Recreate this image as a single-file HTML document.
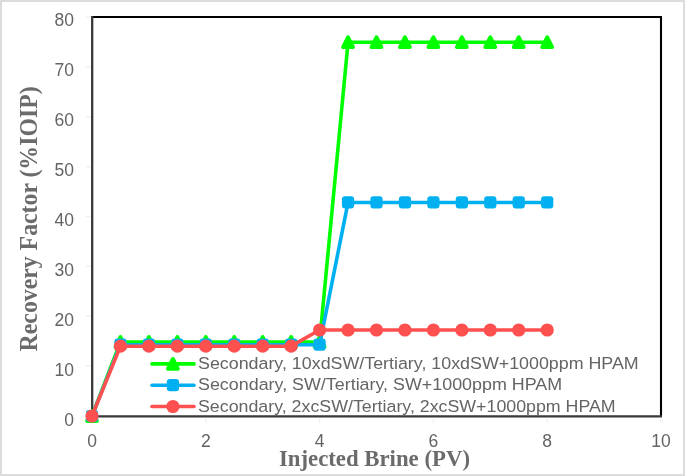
<!DOCTYPE html>
<html><head><meta charset="utf-8"><style>
html,body{margin:0;padding:0;background:#fff;}
body{width:685px;height:476px;overflow:hidden;position:relative;}
.frame{position:absolute;left:0;top:0;width:681px;height:472px;border:2px solid #dcdcdc;}
svg{position:absolute;left:0;top:0;will-change:transform;}
</style></head><body>
<div class="frame"></div>
<svg width="685" height="476" viewBox="0 0 685 476">
<path d="M92.2,17 H661 V416.4" fill="none" stroke="#000" stroke-width="2.1"/>
<path d="M92.2,16 V416.4 H662" fill="none" stroke="#393939" stroke-width="2.3"/>
<line x1="86" y1="416.00" x2="91" y2="416.00" stroke="#f0f0f0" stroke-width="1.5"/>
<line x1="86" y1="366.12" x2="91" y2="366.12" stroke="#f0f0f0" stroke-width="1.5"/>
<line x1="86" y1="316.25" x2="91" y2="316.25" stroke="#f0f0f0" stroke-width="1.5"/>
<line x1="86" y1="266.38" x2="91" y2="266.38" stroke="#f0f0f0" stroke-width="1.5"/>
<line x1="86" y1="216.50" x2="91" y2="216.50" stroke="#f0f0f0" stroke-width="1.5"/>
<line x1="86" y1="166.62" x2="91" y2="166.62" stroke="#f0f0f0" stroke-width="1.5"/>
<line x1="86" y1="116.75" x2="91" y2="116.75" stroke="#f0f0f0" stroke-width="1.5"/>
<line x1="86" y1="66.88" x2="91" y2="66.88" stroke="#f0f0f0" stroke-width="1.5"/>
<line x1="86" y1="17.00" x2="91" y2="17.00" stroke="#f0f0f0" stroke-width="1.5"/>
<line x1="92.00" y1="418.5" x2="92.00" y2="423" stroke="#f0f0f0" stroke-width="1.5"/>
<line x1="205.80" y1="418.5" x2="205.80" y2="423" stroke="#f0f0f0" stroke-width="1.5"/>
<line x1="319.60" y1="418.5" x2="319.60" y2="423" stroke="#f0f0f0" stroke-width="1.5"/>
<line x1="433.40" y1="418.5" x2="433.40" y2="423" stroke="#f0f0f0" stroke-width="1.5"/>
<line x1="547.20" y1="418.5" x2="547.20" y2="423" stroke="#f0f0f0" stroke-width="1.5"/>
<line x1="661.00" y1="418.5" x2="661.00" y2="423" stroke="#f0f0f0" stroke-width="1.5"/>
<polyline points="92.00,416.00 120.45,341.94 148.90,341.94 177.35,341.94 205.80,341.94 234.25,341.94 262.70,341.94 291.15,341.94 319.60,341.94 348.05,42.19 376.50,42.19 404.95,42.19 433.40,42.19 461.85,42.19 490.30,42.19 518.75,42.19 547.20,42.19" fill="none" stroke="#00FF00" stroke-width="3.6" stroke-linejoin="round" stroke-linecap="round"/>
<polygon points="92.00,411.10 87.10,420.90 96.90,420.90" fill="#00FF00" stroke="#00FF00" stroke-width="4.0" stroke-linejoin="round"/>
<polygon points="120.45,337.04 115.55,346.84 125.35,346.84" fill="#00FF00" stroke="#00FF00" stroke-width="4.0" stroke-linejoin="round"/>
<polygon points="148.90,337.04 144.00,346.84 153.80,346.84" fill="#00FF00" stroke="#00FF00" stroke-width="4.0" stroke-linejoin="round"/>
<polygon points="177.35,337.04 172.45,346.84 182.25,346.84" fill="#00FF00" stroke="#00FF00" stroke-width="4.0" stroke-linejoin="round"/>
<polygon points="205.80,337.04 200.90,346.84 210.70,346.84" fill="#00FF00" stroke="#00FF00" stroke-width="4.0" stroke-linejoin="round"/>
<polygon points="234.25,337.04 229.35,346.84 239.15,346.84" fill="#00FF00" stroke="#00FF00" stroke-width="4.0" stroke-linejoin="round"/>
<polygon points="262.70,337.04 257.80,346.84 267.60,346.84" fill="#00FF00" stroke="#00FF00" stroke-width="4.0" stroke-linejoin="round"/>
<polygon points="291.15,337.04 286.25,346.84 296.05,346.84" fill="#00FF00" stroke="#00FF00" stroke-width="4.0" stroke-linejoin="round"/>
<polygon points="319.60,337.04 314.70,346.84 324.50,346.84" fill="#00FF00" stroke="#00FF00" stroke-width="4.0" stroke-linejoin="round"/>
<polygon points="348.05,37.29 343.15,47.09 352.95,47.09" fill="#00FF00" stroke="#00FF00" stroke-width="4.0" stroke-linejoin="round"/>
<polygon points="376.50,37.29 371.60,47.09 381.40,47.09" fill="#00FF00" stroke="#00FF00" stroke-width="4.0" stroke-linejoin="round"/>
<polygon points="404.95,37.29 400.05,47.09 409.85,47.09" fill="#00FF00" stroke="#00FF00" stroke-width="4.0" stroke-linejoin="round"/>
<polygon points="433.40,37.29 428.50,47.09 438.30,47.09" fill="#00FF00" stroke="#00FF00" stroke-width="4.0" stroke-linejoin="round"/>
<polygon points="461.85,37.29 456.95,47.09 466.75,47.09" fill="#00FF00" stroke="#00FF00" stroke-width="4.0" stroke-linejoin="round"/>
<polygon points="490.30,37.29 485.40,47.09 495.20,47.09" fill="#00FF00" stroke="#00FF00" stroke-width="4.0" stroke-linejoin="round"/>
<polygon points="518.75,37.29 513.85,47.09 523.65,47.09" fill="#00FF00" stroke="#00FF00" stroke-width="4.0" stroke-linejoin="round"/>
<polygon points="547.20,37.29 542.30,47.09 552.10,47.09" fill="#00FF00" stroke="#00FF00" stroke-width="4.0" stroke-linejoin="round"/>
<polyline points="92.00,416.00 120.45,344.68 148.90,344.68 177.35,344.68 205.80,344.68 234.25,344.68 262.70,344.68 291.15,344.68 319.60,344.68 348.05,202.44 376.50,202.44 404.95,202.44 433.40,202.44 461.85,202.44 490.30,202.44 518.75,202.44 547.20,202.44" fill="none" stroke="#00B0F0" stroke-width="3.6" stroke-linejoin="round" stroke-linecap="round"/>
<rect x="85.90" y="409.90" width="12.2" height="12.2" rx="3" fill="#00B0F0"/>
<rect x="114.35" y="338.58" width="12.2" height="12.2" rx="3" fill="#00B0F0"/>
<rect x="142.80" y="338.58" width="12.2" height="12.2" rx="3" fill="#00B0F0"/>
<rect x="171.25" y="338.58" width="12.2" height="12.2" rx="3" fill="#00B0F0"/>
<rect x="199.70" y="338.58" width="12.2" height="12.2" rx="3" fill="#00B0F0"/>
<rect x="228.15" y="338.58" width="12.2" height="12.2" rx="3" fill="#00B0F0"/>
<rect x="256.60" y="338.58" width="12.2" height="12.2" rx="3" fill="#00B0F0"/>
<rect x="285.05" y="338.58" width="12.2" height="12.2" rx="3" fill="#00B0F0"/>
<rect x="313.50" y="338.58" width="12.2" height="12.2" rx="3" fill="#00B0F0"/>
<rect x="341.95" y="196.34" width="12.2" height="12.2" rx="3" fill="#00B0F0"/>
<rect x="370.40" y="196.34" width="12.2" height="12.2" rx="3" fill="#00B0F0"/>
<rect x="398.85" y="196.34" width="12.2" height="12.2" rx="3" fill="#00B0F0"/>
<rect x="427.30" y="196.34" width="12.2" height="12.2" rx="3" fill="#00B0F0"/>
<rect x="455.75" y="196.34" width="12.2" height="12.2" rx="3" fill="#00B0F0"/>
<rect x="484.20" y="196.34" width="12.2" height="12.2" rx="3" fill="#00B0F0"/>
<rect x="512.65" y="196.34" width="12.2" height="12.2" rx="3" fill="#00B0F0"/>
<rect x="541.10" y="196.34" width="12.2" height="12.2" rx="3" fill="#00B0F0"/>
<polyline points="92.00,416.00 120.45,346.18 148.90,346.18 177.35,346.18 205.80,346.18 234.25,346.18 262.70,346.18 291.15,346.18 319.60,330.02 348.05,330.02 376.50,330.02 404.95,330.02 433.40,330.02 461.85,330.02 490.30,330.02 518.75,330.02 547.20,330.02" fill="none" stroke="#FF5050" stroke-width="3.6" stroke-linejoin="round" stroke-linecap="round"/>
<circle cx="92.00" cy="416.00" r="6.6" fill="#FF5050"/>
<circle cx="120.45" cy="346.18" r="6.6" fill="#FF5050"/>
<circle cx="148.90" cy="346.18" r="6.6" fill="#FF5050"/>
<circle cx="177.35" cy="346.18" r="6.6" fill="#FF5050"/>
<circle cx="205.80" cy="346.18" r="6.6" fill="#FF5050"/>
<circle cx="234.25" cy="346.18" r="6.6" fill="#FF5050"/>
<circle cx="262.70" cy="346.18" r="6.6" fill="#FF5050"/>
<circle cx="291.15" cy="346.18" r="6.6" fill="#FF5050"/>
<circle cx="319.60" cy="330.02" r="6.6" fill="#FF5050"/>
<circle cx="348.05" cy="330.02" r="6.6" fill="#FF5050"/>
<circle cx="376.50" cy="330.02" r="6.6" fill="#FF5050"/>
<circle cx="404.95" cy="330.02" r="6.6" fill="#FF5050"/>
<circle cx="433.40" cy="330.02" r="6.6" fill="#FF5050"/>
<circle cx="461.85" cy="330.02" r="6.6" fill="#FF5050"/>
<circle cx="490.30" cy="330.02" r="6.6" fill="#FF5050"/>
<circle cx="518.75" cy="330.02" r="6.6" fill="#FF5050"/>
<circle cx="547.20" cy="330.02" r="6.6" fill="#FF5050"/>
<text x="74" y="425.50" text-anchor="end" font-family="Liberation Sans" font-size="17.5" fill="#646464">0</text>
<text x="74" y="375.60" text-anchor="end" font-family="Liberation Sans" font-size="17.5" fill="#646464">10</text>
<text x="74" y="325.70" text-anchor="end" font-family="Liberation Sans" font-size="17.5" fill="#646464">20</text>
<text x="74" y="275.80" text-anchor="end" font-family="Liberation Sans" font-size="17.5" fill="#646464">30</text>
<text x="74" y="225.90" text-anchor="end" font-family="Liberation Sans" font-size="17.5" fill="#646464">40</text>
<text x="74" y="176.00" text-anchor="end" font-family="Liberation Sans" font-size="17.5" fill="#646464">50</text>
<text x="74" y="126.10" text-anchor="end" font-family="Liberation Sans" font-size="17.5" fill="#646464">60</text>
<text x="74" y="76.20" text-anchor="end" font-family="Liberation Sans" font-size="17.5" fill="#646464">70</text>
<text x="74" y="26.30" text-anchor="end" font-family="Liberation Sans" font-size="17.5" fill="#646464">80</text>
<text x="92.00" y="446.5" text-anchor="middle" font-family="Liberation Sans" font-size="17.5" fill="#646464">0</text>
<text x="205.80" y="446.5" text-anchor="middle" font-family="Liberation Sans" font-size="17.5" fill="#646464">2</text>
<text x="319.60" y="446.5" text-anchor="middle" font-family="Liberation Sans" font-size="17.5" fill="#646464">4</text>
<text x="433.40" y="446.5" text-anchor="middle" font-family="Liberation Sans" font-size="17.5" fill="#646464">6</text>
<text x="547.20" y="446.5" text-anchor="middle" font-family="Liberation Sans" font-size="17.5" fill="#646464">8</text>
<text x="661.00" y="446.5" text-anchor="middle" font-family="Liberation Sans" font-size="17.5" fill="#646464">10</text>
<line x1="152" y1="363.9" x2="194" y2="363.9" stroke="#00FF00" stroke-width="3.6" stroke-linecap="round"/>
<polygon points="172.90,359.00 168.00,368.80 177.80,368.80" fill="#00FF00" stroke="#00FF00" stroke-width="4.0" stroke-linejoin="round"/>
<text x="198" y="368.90" font-family="Liberation Sans" font-size="17.2" fill="#646464" textLength="440.7" lengthAdjust="spacingAndGlyphs">Secondary, 10xdSW/Tertiary, 10xdSW+1000ppm HPAM</text>
<line x1="152" y1="385.2" x2="194" y2="385.2" stroke="#00B0F0" stroke-width="3.6" stroke-linecap="round"/>
<rect x="166.80" y="379.10" width="12.2" height="12.2" rx="3" fill="#00B0F0"/>
<text x="198" y="390.20" font-family="Liberation Sans" font-size="17.2" fill="#646464" textLength="364.1" lengthAdjust="spacingAndGlyphs">Secondary, SW/Tertiary, SW+1000ppm HPAM</text>
<line x1="152" y1="406.5" x2="194" y2="406.5" stroke="#FF5050" stroke-width="3.6" stroke-linecap="round"/>
<circle cx="172.90" cy="406.50" r="6.6" fill="#FF5050"/>
<text x="198" y="411.50" font-family="Liberation Sans" font-size="17.2" fill="#646464" textLength="417.7" lengthAdjust="spacingAndGlyphs">Secondary, 2xcSW/Tertiary, 2xcSW+1000ppm HPAM</text>
<text x="278.9" y="466" font-family="Liberation Serif" font-weight="bold" font-size="22.6" fill="#6b6b6b" textLength="191.1" lengthAdjust="spacingAndGlyphs">Injected Brine (PV)</text>
<text transform="translate(36.8,351.4) rotate(-90)" x="0" y="0" font-family="Liberation Serif" font-weight="bold" font-size="25.3" fill="#6b6b6b" textLength="265" lengthAdjust="spacingAndGlyphs">Recovery Factor (%IOIP)</text>
</svg>
</body></html>
